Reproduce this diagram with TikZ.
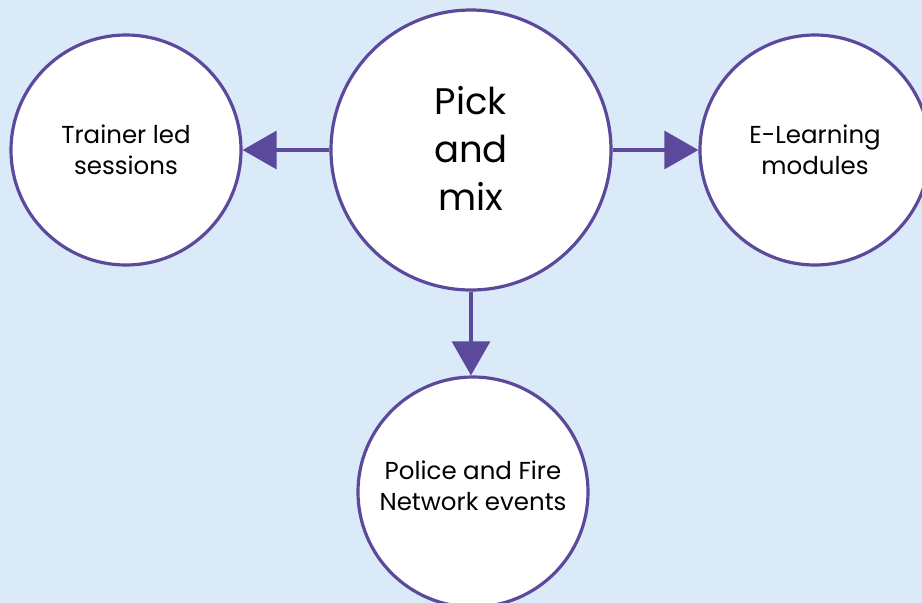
\documentclass[tikz,border=0pt]{standalone}
\usepackage{fontspec}
\setmainfont{Poppins}
\usetikzlibrary{arrows.meta}
\definecolor{bg}{HTML}{DBEAF8}
\definecolor{pur}{HTML}{5B4A9B}
\begin{document}
\begin{tikzpicture}[x=1pt,y=-1pt,
  circ/.style={circle,draw=pur,line width=3.2pt,fill=white,inner sep=0pt,minimum size=230pt},
  lbl/.style={align=center,font=\fontsize{24.5}{31}\selectfont,inner sep=0pt},
  conn/.style={draw=pur,line width=3.2pt,-{Triangle[length=34pt,width=38pt]}}]
\fill[bg] (0,0) rectangle (922,603);
\useasboundingbox (0,0) rectangle (922,603);
\node[circ,minimum size=280pt] (c) at (471,150) {};
\node[circ] (l) at (126,150) {};
\node[circ] (r) at (815,150) {};
\node[circ] (b) at (473,492) {};
\node[lbl,font=\fontsize{37}{48}\selectfont] (ct) at (471,148) {Pick\\and\\mix};
\node[lbl] (lt) at (126,150) {Trainer led\\sessions};
\node[lbl] (rt) at (815,150) {E-Learning\\modules};
\node[lbl] (bt) at (473,486) {Police and Fire\\Network events};
\draw[conn] (c.west) -- (l.east);
\draw[conn] (c.east) -- (r.west);
\coordinate (bn) at (c.south |- b.north);
\draw[conn] (c.south) -- (bn);
\end{tikzpicture}
\end{document}
